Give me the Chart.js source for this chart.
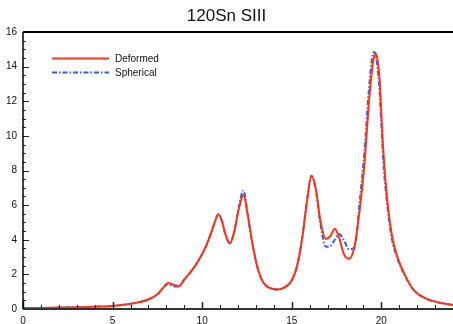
<!DOCTYPE html>
<html>
<head>
<meta charset="utf-8">
<title>120Sn SIII</title>
<script src="https://cdn.jsdelivr.net/npm/chart.js@4/dist/chart.umd.min.js"></script>
<style>
  html, body { margin: 0; padding: 0; background: #fff; }
  #wrap { width: 453px; height: 324px; }
</style>
</head>
<body>
<div id="wrap"><canvas id="c" width="453" height="324"></canvas></div>
<script>
// Excitation energy grid (MeV)
const energy = [0, 1, 2, 3, 4, 5, 6, 6.5, 7, 7.5, 7.8, 8.1, 8.4, 8.7, 9, 9.4, 9.8, 10.2, 10.5, 10.7, 10.9, 11.1, 11.3, 11.55, 11.8, 12.05, 12.3, 12.55, 12.8, 13.1, 13.4, 13.8, 14.2, 14.6, 15.0, 15.3, 15.6, 15.85, 16.1, 16.35, 16.6, 16.9, 17.15, 17.4, 17.65, 17.9, 18.2, 18.5, 18.8, 19.05, 19.3, 19.5, 19.6, 19.7, 19.8, 19.9, 20.1, 20.35, 20.6, 20.9, 21.3, 21.8, 22.5, 23.2, 24];

// Strength function, deformed ground state
const deformed = [0.05, 0.06, 0.08, 0.1, 0.13, 0.18, 0.3, 0.4, 0.55, 0.85, 1.2, 1.5, 1.4, 1.32, 1.7, 2.2, 2.8, 3.6, 4.4, 5.0, 5.48, 5.1, 4.3, 3.78, 4.5, 5.8, 6.58, 5.4, 3.8, 2.35, 1.55, 1.2, 1.13, 1.25, 1.65, 2.5, 4.2, 6.2, 7.7, 6.9, 5.1, 4.05, 4.2, 4.63, 4.1, 3.2, 2.9, 3.6, 5.8, 8.3, 11.8, 14.0, 14.6, 14.75, 14.3, 13.3, 9.3, 6.1, 4.2, 3.0, 2.0, 1.1, 0.6, 0.38, 0.23];

// Strength function, spherical ground state
const spherical = [0.05, 0.06, 0.08, 0.1, 0.13, 0.18, 0.3, 0.4, 0.55, 0.85, 1.2, 1.45, 1.3, 1.3, 1.7, 2.2, 2.8, 3.6, 4.4, 5.0, 5.48, 5.1, 4.3, 3.78, 4.55, 5.9, 6.85, 5.4, 3.8, 2.35, 1.55, 1.2, 1.13, 1.25, 1.65, 2.5, 4.25, 6.3, 7.7, 6.8, 4.9, 3.6, 3.65, 4.0, 4.33, 4.0, 3.45, 3.55, 6.3, 9.0, 12.6, 14.6, 14.85, 14.6, 13.8, 12.6, 8.7, 5.8, 4.0, 2.9, 1.95, 1.1, 0.6, 0.38, 0.23];

const seriesNames = ['Deformed', 'Spherical'];
const xTickLabels = [0, 5, 10, 15, 20];
const yTickLabels = [0, 2, 4, 6, 8, 10, 12, 14, 16];

const FONT = "'Liberation Sans', Arial, Helvetica, sans-serif";

function pts(ys) { return energy.map((x, i) => ({ x: x, y: ys[i] })); }

// Frame, inward tick marks and the in-plot legend
const framePlugin = {
  id: 'frame',
  afterDatasetsDraw(chart) {
    const { ctx, chartArea: a, scales: { x, y } } = chart;
    ctx.save();
    // inward ticks on the x axis
    ctx.strokeStyle = '#222';
    for (let v = 0; v <= 24; v += 1) {
      const px = Math.round(x.getPixelForValue(v)) + 0.5;
      const major = xTickLabels.includes(v);
      ctx.lineWidth = major ? 1.5 : 1;
      ctx.beginPath();
      ctx.moveTo(px, a.bottom);
      ctx.lineTo(px, a.bottom - (major ? 7 : 4));
      ctx.stroke();
    }
    // inward ticks on the y axis
    for (let v = 0; v <= 16; v += 0.5) {
      const py = Math.round(y.getPixelForValue(v)) + 0.5;
      const major = yTickLabels.includes(v);
      ctx.lineWidth = 1;
      ctx.beginPath();
      ctx.moveTo(a.left, py);
      ctx.lineTo(a.left + (major ? 6 : 3), py);
      ctx.stroke();
    }
    // frame lines
    ctx.strokeStyle = '#000';
    ctx.lineWidth = 2;
    ctx.beginPath();
    ctx.moveTo(a.left, a.top);
    ctx.lineTo(a.right, a.top);
    ctx.stroke();
    ctx.lineWidth = 1.5;
    ctx.beginPath();
    ctx.moveTo(a.left, a.top);
    ctx.lineTo(a.left, a.bottom);
    ctx.stroke();
    ctx.strokeStyle = '#333';
    ctx.lineWidth = 2;
    ctx.beginPath();
    ctx.moveTo(a.left, a.bottom);
    ctx.lineTo(a.right, a.bottom);
    ctx.stroke();

    // legend
    const lx0 = a.left + 29, lx1 = a.left + 86, tx = a.left + 92;
    chart.data.datasets.forEach((ds, i) => {
      const ly = a.top + 26 + i * 14;
      ctx.strokeStyle = ds.borderColor;
      ctx.lineWidth = ds.borderWidth;
      ctx.setLineDash(ds.borderDash || []);
      ctx.beginPath();
      ctx.moveTo(lx0, ly + 0.5);
      ctx.lineTo(lx1, ly + 0.5);
      ctx.stroke();
      ctx.setLineDash([]);
      ctx.fillStyle = '#111';
      ctx.font = '10px ' + FONT;
      ctx.textAlign = 'left';
      ctx.textBaseline = 'middle';
      ctx.fillText(ds.label, tx, ly + 1);
    });
    ctx.restore();
  }
};

new Chart(document.getElementById('c'), {
  type: 'line',
  data: {
    datasets: [
      {
        label: seriesNames[0],
        data: pts(deformed),
        borderColor: '#ff3516',
        borderWidth: 2,
        pointRadius: 0,
        cubicInterpolationMode: 'monotone',
        fill: false
      },
      {
        label: seriesNames[1],
        data: pts(spherical),
        borderColor: '#2f5cf5',
        borderWidth: 2,
        borderDash: [5, 2, 1.5, 2],
        pointRadius: 0,
        cubicInterpolationMode: 'monotone',
        fill: false
      }
    ]
  },
  options: {
    responsive: false,
    animation: false,
    devicePixelRatio: 1,
    layout: { padding: { left: 0, right: 0, top: 0, bottom: 0 } },
    plugins: {
      legend: { display: false },
      tooltip: { enabled: false },
      title: {
        display: true,
        text: '120Sn SIII',
        color: '#111',
        font: { family: FONT, size: 17, weight: 'normal' },
        padding: { top: 6, bottom: 5.6 }
      }
    },
    scales: {
      x: {
        type: 'linear',
        min: 0,
        max: 24,
        grid: { display: false, drawTicks: false },
        border: { display: false },
        afterFit(s) { s.height = 15; s.paddingLeft = 0; s.paddingRight = 0; },
        ticks: {
          stepSize: 1,
          autoSkip: false,
          maxRotation: 0,
          padding: 6,
          color: '#111',
          font: { family: FONT, size: 10 },
          callback: v => xTickLabels.includes(v) ? String(v) : ''
        }
      },
      y: {
        type: 'linear',
        min: 0,
        max: 16,
        grid: { display: false, drawTicks: false },
        border: { display: false },
        afterFit(s) { s.width = 23; s.paddingTop = 0; s.paddingBottom = 0; },
        ticks: {
          stepSize: 0.5,
          autoSkip: false,
          padding: 6,
          color: '#111',
          font: { family: FONT, size: 10 },
          callback: v => yTickLabels.includes(v) ? String(v) : ''
        }
      }
    }
  },
  plugins: [framePlugin]
});
</script>
</body>
</html>
